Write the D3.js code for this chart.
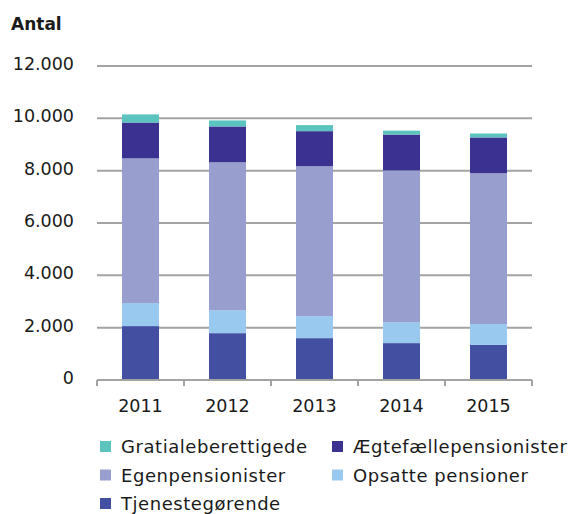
<!DOCTYPE html>
<html>
<head>
<meta charset="utf-8">
<script src="https://cdn.jsdelivr.net/npm/d3@7"></script>
<style>
  body { margin: 0; background: #fff; }
  text { font-family: "DejaVu Sans", sans-serif; fill: #1a1a1a; }
</style>
</head>
<body>
<div id="chart"></div>
<script>
// data
const years = ["2011", "2012", "2013", "2014", "2015"];
const tjenestegorende = [2060, 1790, 1600, 1410, 1340];
const opsatte = [880, 880, 840, 800, 800];
const egen = [5530, 5650, 5730, 5800, 5760];
const aegtefaelle = [1370, 1370, 1340, 1370, 1370];
const gratiale = [310, 230, 230, 150, 150];
const yTicks = [0, 2000, 4000, 6000, 8000, 10000, 12000];

const series = [
  {key: "Tjenestegørende", values: tjenestegorende, color: "#4350a2"},
  {key: "Opsatte pensioner", values: opsatte, color: "#99c9ee"},
  {key: "Egenpensionister", values: egen, color: "#989fcf"},
  {key: "Ægtefællepensionister", values: aegtefaelle, color: "#3a3190"},
  {key: "Gratialeberettigede", values: gratiale, color: "#5bc4bf"}
];

const W = 573, H = 514;
const margin = {top: 66, right: 41, bottom: 134, left: 97};
const width = W - margin.left - margin.right,
      height = H - margin.top - margin.bottom;

const svg = d3.select("#chart").append("svg")
    .attr("width", W).attr("height", H);

svg.append("text")
    .attr("x", 11).attr("y", 30)
    .style("font-weight", "bold").style("font-size", "17px")
    .text("Antal");

const g = svg.append("g")
    .attr("transform", `translate(${margin.left},${margin.top})`);

const x = d3.scaleBand().domain(years).range([0, width]).paddingInner(0.575).paddingOuter(0.2875);
const y = d3.scaleLinear().domain([0, 12000]).range([height, 0]);

// gridlines
g.append("g")
  .selectAll("line")
  .data(yTicks.filter(d => d > 0))
  .join("line")
    .attr("x1", 0).attr("x2", width)
    .attr("y1", d => y(d)).attr("y2", d => y(d))
    .attr("stroke", "#a3a3a3").attr("stroke-width", 2);

// y labels
g.append("g")
  .selectAll("text")
  .data(yTicks)
  .join("text")
    .attr("x", -23).attr("y", d => y(d) + 4)
    .attr("text-anchor", "end")
    .style("font-size", "17.5px")
    .text(d => d3.format(",")(d).replace(/,/g, "."));

// stacked bars
const table = years.map((yr, i) => {
  const row = {year: yr};
  series.forEach(s => row[s.key] = s.values[i]);
  return row;
});
const stack = d3.stack().keys(series.map(s => s.key))(table);

g.append("g")
  .selectAll("g")
  .data(stack)
  .join("g")
    .attr("fill", (d, i) => series[i].color)
  .selectAll("rect")
  .data(d => d)
  .join("rect")
    .attr("x", d => x(d.data.year))
    .attr("width", x.bandwidth())
    .attr("y", d => y(d[1]))
    .attr("height", d => y(d[0]) - y(d[1]));

// x axis
const xAxis = g.append("g").attr("transform", `translate(0,${height})`);
xAxis.append("line")
    .attr("x1", 0).attr("x2", width)
    .attr("stroke", "#a3a3a3").attr("stroke-width", 2);
xAxis.selectAll("line.tick")
  .data(d3.range(years.length + 1))
  .join("line")
    .attr("class", "tick")
    .attr("x1", d => d * width / years.length).attr("x2", d => d * width / years.length)
    .attr("y1", 0).attr("y2", 6)
    .attr("stroke", "#a3a3a3").attr("stroke-width", 2);
xAxis.selectAll("text")
  .data(years)
  .join("text")
    .attr("x", d => x(d) + x.bandwidth() / 2)
    .attr("y", 32)
    .attr("text-anchor", "middle")
    .style("font-size", "17.5px")
    .text(d => d);

// legend
const legendItems = [
  {s: series[4], col: 0, row: 0},
  {s: series[3], col: 1, row: 0},
  {s: series[2], col: 0, row: 1},
  {s: series[1], col: 1, row: 1},
  {s: series[0], col: 0, row: 2}
];
const leg = svg.append("g");
const li = leg.selectAll("g")
  .data(legendItems)
  .join("g")
    .attr("transform", d => `translate(${100 + d.col * 232},${453 + d.row * 28.5})`);
li.append("rect")
    .attr("x", 0).attr("y", -12).attr("width", 11).attr("height", 11)
    .attr("fill", d => d.s.color);
li.append("text")
    .attr("x", 21).attr("y", 0)
    .style("font-size", "18px")
    .style("letter-spacing", "0.55px")
    .text(d => d.s.key);
</script>
</body>
</html>
